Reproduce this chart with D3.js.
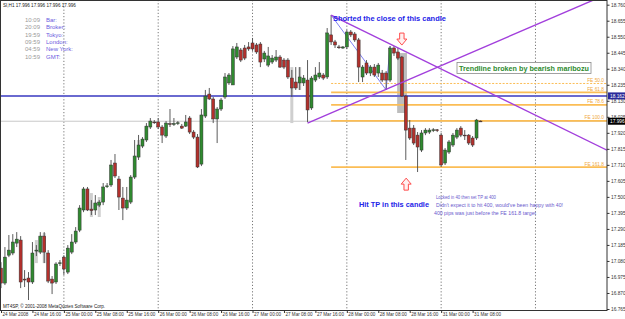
<!DOCTYPE html>
<html>
<head>
<meta charset="utf-8">
<script src="https://cdn.jsdelivr.net/npm/d3@7"></script>
<style>
  body { margin: 0; background: #fff; }
  svg { display: block; font-family: Arial, "Liberation Sans", sans-serif; }
</style>
</head>
<body>
<div id="chart"></div>
<script>
// SI,H1 hourly bars, 24 Mar 2008 08:00 .. 31 Mar 2008 10:00
var opens = [17.033,16.935,17.118,17.132,17.197,17.217,16.961,16.968,16.942,17.145,17.138,17.243,17.132,16.961,16.942,17.066,17.105,17.007,17.138,17.204,
  17.282,17.414,17.552,17.420,17.414,17.446,17.466,17.568,17.578,17.722,17.617,17.492,17.427,17.466,17.630,17.761,17.833,17.873,17.958,17.991,
  17.991,17.958,17.899,17.980,17.975,17.984,17.964,17.964,18.017,17.925,17.892,17.715,18.030,18.174,18.142,18.011,18.076,18.155,18.247,18.234,
  18.417,18.463,18.476,18.483,18.509,18.496,18.502,18.404,18.364,18.384,18.397,18.417,18.397,18.397,18.279,18.253,18.247,18.247,18.266,18.083,
  18.266,18.286,18.299,18.286,18.562,18.516,18.483,18.476,18.483,18.581,18.568,18.529,18.286,18.378,18.312,18.351,18.312,18.312,18.312,18.266,
  18.476,18.450,18.417,18.161,17.951,17.951,17.905,17.807,17.919,17.925,17.938,17.940,17.905,17.722,17.794,17.840,17.892,17.951,17.905,17.905,
  17.886,17.886,17.997];
var highs = [17.072,17.171,17.250,17.256,17.269,17.243,17.020,17.007,17.204,17.184,17.269,17.269,17.151,16.981,17.072,17.086,17.118,17.184,17.256,17.302,
  17.446,17.565,17.565,17.479,17.512,17.479,17.591,17.591,17.742,17.781,17.637,17.565,17.565,17.643,17.873,17.906,17.892,17.984,18.017,18.004,
  18.017,17.971,17.997,18.076,18.017,17.997,17.978,18.037,18.030,17.938,17.912,18.076,18.201,18.214,18.155,18.089,18.148,18.312,18.312,18.489,
  18.509,18.476,18.496,18.515,18.542,18.509,18.515,18.457,18.483,18.430,18.463,18.430,18.410,18.410,18.332,18.351,18.351,18.299,18.397,18.292,
  18.351,18.384,18.312,18.607,18.692,18.529,18.496,18.489,18.594,18.594,18.581,18.542,18.364,18.397,18.364,18.371,18.378,18.332,18.325,18.489,
  18.489,18.476,18.424,18.168,18.004,17.971,17.925,17.938,17.951,17.951,17.951,17.945,17.919,17.820,17.873,17.919,17.951,17.964,17.938,17.912,
  17.899,18.011,18.001];
var lows = [16.902,16.922,17.105,17.118,17.171,16.902,16.909,16.824,16.929,17.112,17.125,17.066,16.935,16.863,16.929,17.047,16.988,16.994,17.125,17.191,
  17.269,17.400,17.407,17.381,17.381,17.433,17.446,17.558,17.565,17.624,17.414,17.348,17.414,17.453,17.617,17.742,17.820,17.860,17.945,17.978,
  17.945,17.853,17.886,17.958,17.965,17.971,17.945,17.958,17.912,17.879,17.689,17.702,18.017,18.135,17.984,17.853,18.063,18.142,18.234,18.234,
  18.404,18.384,18.397,18.457,18.457,18.437,18.351,18.384,18.351,18.371,18.384,18.345,18.338,18.273,18.155,18.201,18.201,18.227,17.990,18.070,
  18.253,18.273,18.266,18.273,18.496,18.476,18.470,18.470,18.470,18.548,18.516,18.253,18.253,18.299,18.292,18.286,18.286,18.253,18.201,18.253,
  18.424,18.397,18.155,17.742,17.873,17.840,17.663,17.794,17.905,17.912,17.925,17.925,17.696,17.709,17.781,17.827,17.879,17.892,17.873,17.840,
  17.827,17.873,17.994];
var closes = [16.935,17.105,17.151,17.204,17.223,16.942,16.955,16.942,17.132,17.151,17.243,17.138,16.948,16.935,17.060,17.068,17.027,17.164,17.204,17.276,
  17.427,17.552,17.414,17.410,17.460,17.466,17.565,17.572,17.709,17.637,17.499,17.427,17.479,17.630,17.768,17.840,17.879,17.964,17.997,17.989,
  17.958,17.905,17.984,17.978,17.981,17.986,17.951,17.991,17.925,17.892,17.696,18.037,18.161,18.142,18.011,18.076,18.135,18.286,18.299,18.470,
  18.483,18.397,18.410,18.470,18.470,18.450,18.384,18.443,18.424,18.410,18.417,18.351,18.351,18.286,18.214,18.214,18.286,18.279,18.070,18.279,
  18.299,18.312,18.279,18.575,18.516,18.496,18.480,18.483,18.581,18.562,18.529,18.351,18.351,18.312,18.351,18.299,18.364,18.266,18.266,18.476,
  18.443,18.410,18.161,17.938,17.886,17.853,17.827,17.919,17.938,17.938,17.940,17.938,17.709,17.807,17.860,17.905,17.938,17.905,17.902,17.853,
  17.840,18.004,17.996];

// light grey shadow bars seen behind a few candles: bar, high, low
var ghostBars = [9, 11, 23, 25, 35, 74, 76];
var ghostHigh = [17.217, 17.263, 17.525, 17.499, 17.873, 18.351, 18.351];
var ghostLow  = [17.066, 17.066, 17.368, 17.368, 17.761, 17.984, 18.201];

var priceTicks = [18.760,18.655,18.550,18.445,18.340,18.235,18.130,18.025,17.920,17.815,17.710,17.605,17.500,17.395,17.290,17.185,17.080,16.975,16.870,16.765];
var timeTickBars = [0,8,16,24,32,40,48,56,64,72,80,88,96,104,112,120];
var timeLabels = ["24 Mar 2008","24 Mar 16:00","25 Mar 00:00","25 Mar 08:00","25 Mar 16:00","26 Mar 00:00","26 Mar 08:00","26 Mar 16:00",
  "27 Mar 00:00","27 Mar 08:00","27 Mar 16:00","28 Mar 00:00","28 Mar 08:00","28 Mar 16:00","31 Mar 00:00","31 Mar 08:00"];
var dayGridBars = [16, 40, 64, 88, 112, 136];

var bidPrice = 17.996;
var hLinePrice = 18.162;

// fibo expansion points (bar, price) and levels
var feA = [84, 18.692], feB = [98, 18.201], feC = [99, 18.489];
var feLevels = [50.0, 61.8, 78.6, 100.0, 161.8];

// trendlines: [bar, price] pairs
var trendDown = [[84, 18.692], [154.2, 17.806]];
var trendUp = [[78, 17.984], [150.8, 18.791]];

// highlight box around the marubozu
var boxBars = [100.8, 103.3], boxPrices = [18.443, 18.050];

var sessionTimes = ["10:09","20:09","19:59","09:59","04:59","10:59"];
var sessionNames = ["Bar:","Broker:","Tokyo:","London:","New York:","GMT:"];

var notes = ["Locked in 40 then set TP at 400",
  "Didn't expect it to hit 400, would've been happy with 40!",
  "400 pips was just before the FE 161.8 target"];

var width = 625, height = 319;
var plotR = 607, plotB = 310;

var svg = d3.select("#chart").append("svg")
    .attr("width", width)
    .attr("height", height);

var x = d3.scaleLinear().domain([0, 154.2]).range([1, plotR]);
var y = d3.scaleLinear().domain([16.765, 18.760]).range([309, 4.7]);

svg.append("defs").append("clipPath").attr("id", "plotclip")
  .append("rect").attr("x", 1).attr("y", 1).attr("width", plotR - 1).attr("height", plotB - 1);

var plot = svg.append("g").attr("clip-path", "url(#plotclip)");

// day separators
plot.selectAll(".vgrid").data(dayGridBars).enter().append("line")
    .attr("x1", function(d) { return x(d); }).attr("x2", function(d) { return x(d); })
    .attr("y1", 0).attr("y2", plotB)
    .attr("stroke", "#555").attr("stroke-width", 0.8).attr("stroke-dasharray", "1.2,2");

// bid line
plot.append("line")
    .attr("x1", 0).attr("x2", plotR)
    .attr("y1", y(bidPrice)).attr("y2", y(bidPrice))
    .attr("stroke", "#c8c8c8").attr("stroke-width", 1);

// highlight rectangle
plot.append("rect")
    .attr("x", x(boxBars[0])).attr("width", x(boxBars[1]) - x(boxBars[0]))
    .attr("y", y(boxPrices[0])).attr("height", y(boxPrices[1]) - y(boxPrices[0]))
    .attr("fill", "#bdbdbd");

// ghost bars
plot.selectAll(".ghost").data(ghostBars).enter().append("rect")
    .attr("x", function(d) { return x(d) - 1.5; })
    .attr("width", 3)
    .attr("y", function(d, i) { return y(ghostHigh[i]); })
    .attr("height", function(d, i) { return y(ghostLow[i]) - y(ghostHigh[i]); })
    .attr("fill", "#cfcfcf");

// FE levels
var feRange = feA[1] - feB[1];
var feData = feLevels.map(function(r) { return {r: r, p: feC[1] - feRange * r / 100}; });
plot.selectAll(".fe").data(feData).enter().append("line")
    .attr("x1", x(feA[0])).attr("x2", plotR)
    .attr("y1", function(d) { return y(d.p); }).attr("y2", function(d) { return y(d.p); })
    .attr("stroke", "#fbbd55")
    .attr("stroke-width", function(d) { return d.r === 50 ? 1 : 1.8; })
    .attr("stroke-dasharray", function(d) { return d.r === 50 ? "2,1.5" : null; });
plot.selectAll(".felab").data(feData).enter().append("text")
    .attr("x", 604).attr("y", function(d) { return y(d.p) - 1.5; })
    .attr("text-anchor", "end")
    .attr("font-size", 4.8)
    .attr("fill", "#f0a840")
    .text(function(d) { return "FE " + d.r.toFixed(1); });

// horizontal blue line
plot.append("line")
    .attr("x1", 0).attr("x2", plotR)
    .attr("y1", y(hLinePrice)).attr("y2", y(hLinePrice))
    .attr("stroke", "#6a6ad0").attr("stroke-width", 2);

// fibo tool legs
var leg = d3.line().x(function(d) { return x(d[0]); }).y(function(d) { return y(d[1]); });
plot.append("path").attr("d", leg([feA, feB, feC]))
    .attr("fill", "none").attr("stroke", "#7070f0").attr("stroke-width", 0.9);

// candles
var bars = d3.range(opens.length);
plot.selectAll(".wick").data(bars).enter().append("line")
    .attr("x1", function(i) { return x(i); }).attr("x2", function(i) { return x(i); })
    .attr("y1", function(i) { return y(highs[i]); }).attr("y2", function(i) { return y(lows[i]); })
    .attr("stroke", "#4a4a4a").attr("stroke-width", 0.9);
plot.selectAll(".body").data(bars).enter().append("rect")
    .attr("x", function(i) { return x(i) - 1.5; })
    .attr("width", 3)
    .attr("y", function(i) { return y(Math.max(opens[i], closes[i])); })
    .attr("height", function(i) { return Math.max(0.8, Math.abs(y(opens[i]) - y(closes[i]))); })
    .attr("fill", function(i) { return closes[i] >= opens[i] ? "#2f8a2f" : "#b3302c"; })
    .attr("stroke", "#333").attr("stroke-width", 0.5);

// trendlines
[trendDown, trendUp].forEach(function(t) {
  plot.append("path").attr("d", leg(t))
      .attr("fill", "none").attr("stroke", "#a23fdc").attr("stroke-width", 1.4);
});

// arrows
function arrowDown(cx, top) {
  return "M" + (cx - 2.2) + "," + top + "h4.4v6h2.8l-5,6l-5,-6h2.8z";
}
function arrowUp(cx, top) {
  return "M" + cx + "," + top + "l5,6h-2.8v6h-4.4v-6h-2.8z";
}
plot.append("path").attr("d", arrowDown(x(102), y(18.574)))
    .attr("fill", "#fff0f0").attr("stroke", "#ff4d4d").attr("stroke-width", 1);
plot.append("path").attr("d", arrowUp(x(103.1), y(17.623)))
    .attr("fill", "#fff0f0").attr("stroke", "#ff4d4d").attr("stroke-width", 1);

// frame
svg.append("rect").attr("x", 0.5).attr("y", 0.5).attr("width", plotR - 0.5).attr("height", plotB)
    .attr("fill", "none").attr("stroke", "#333").attr("stroke-width", 1);

// right axis
var yAxis = svg.append("g").attr("transform", "translate(" + plotR + ",0)")
    .call(d3.axisRight(y).tickValues(priceTicks).tickFormat(d3.format(".3f")).tickSize(2.5).tickPadding(1.5));
yAxis.select(".domain").remove();
yAxis.selectAll("line").attr("stroke", "#333");
yAxis.selectAll("text").attr("font-size", 4.8).attr("fill", "#333").attr("font-family", "Arial, sans-serif");

// price boxes on axis
[[hLinePrice, "#2a2a9a"], [bidPrice, "#000"]].forEach(function(b) {
  svg.append("rect").attr("x", plotR + 1).attr("y", y(b[0]) - 3.5).attr("width", 17).attr("height", 7).attr("fill", b[1]);
  svg.append("text").attr("x", plotR + 3).attr("y", y(b[0]) + 1.8)
      .attr("font-size", 4.8).attr("fill", "#fff").text(b[0].toFixed(3));
});

// bottom axis
var xAxis = svg.append("g").attr("transform", "translate(0," + plotB + ")")
    .call(d3.axisBottom(x).tickValues(timeTickBars)
      .tickFormat(function(d, i) { return timeLabels[i]; }).tickSize(3));
xAxis.select(".domain").remove();
xAxis.selectAll("line").attr("stroke", "#333");
xAxis.selectAll("text")
    .attr("text-anchor", "start").attr("x", 1).attr("y", 2.5)
    .attr("font-size", 4.6).attr("fill", "#333").attr("font-family", "Arial, sans-serif");

// header and footer texts
svg.append("text").attr("x", 3).attr("y", 7).attr("font-size", 4.6).attr("fill", "#222")
    .text("SI,H1  17.996 17.996 17.996 17.996");
svg.append("text").attr("x", 3).attr("y", 307.5).attr("font-size", 4.6).attr("fill", "#222")
    .text("MT4SP, \u00a9 2001-2008 MetaQuotes Software Corp.");

// session clock
sessionTimes.forEach(function(t, i) {
  var yy = 22 + i * 7.3;
  svg.append("text").attr("x", 40).attr("y", yy).attr("text-anchor", "end")
      .attr("font-size", 6).attr("fill", "#9a9a9a").text(t);
  svg.append("text").attr("x", 46).attr("y", yy)
      .attr("font-size", 6).attr("fill", "#6b5ce0").text(sessionNames[i]);
});

// annotations
svg.append("text").attr("x", 333).attr("y", 21)
    .attr("font-size", 8).attr("font-weight", "bold").attr("fill", "#2323e8")
    .attr("textLength", 113).attr("lengthAdjust", "spacingAndGlyphs")
    .text("Shorted the close of this candle");

svg.append("rect").attr("x", 457).attr("y", 62.5).attr("width", 134).attr("height", 11)
    .attr("fill", "#fff").attr("stroke", "#8a8a8a").attr("stroke-width", 0.8);
svg.append("text").attr("x", 459).attr("y", 71)
    .attr("font-size", 7.5).attr("font-weight", "bold").attr("fill", "#2e8b2e")
    .attr("textLength", 130).attr("lengthAdjust", "spacingAndGlyphs")
    .text("Trendline broken by bearish maribozu");

svg.append("text").attr("x", 359).attr("y", 207)
    .attr("font-size", 7).attr("font-weight", "bold").attr("fill", "#2323e8")
    .attr("textLength", 70).attr("lengthAdjust", "spacingAndGlyphs")
    .text("Hit TP in this candle");

var noteX = [436, 436, 434], noteY = [198.5, 206.5, 215], noteW = [60, 127, 102];
notes.forEach(function(n, i) {
  svg.append("text").attr("x", noteX[i]).attr("y", noteY[i])
      .attr("font-size", 5.2).attr("fill", "#6a5acd")
      .attr("textLength", noteW[i]).attr("lengthAdjust", "spacingAndGlyphs")
      .text(n);
});
</script>
</body>
</html>
